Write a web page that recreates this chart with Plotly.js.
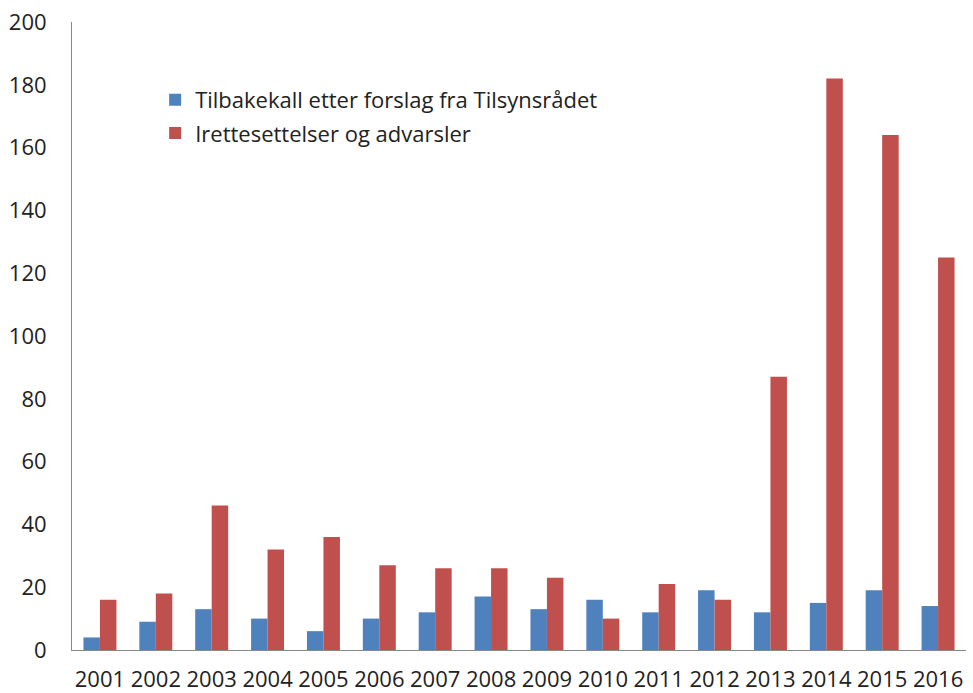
<!DOCTYPE html>
<html>
<head>
<meta charset="utf-8">
<script src="https://cdn.plot.ly/plotly-3.0.1.min.js"></script>
<style>html,body{margin:0;padding:0;background:#fff;}#chart{width:973px;height:693px;}</style>
</head>
<body>
<div id="chart"></div>
<script>
const years = ["2001","2002","2003","2004","2005","2006","2007","2008","2009","2010","2011","2012","2013","2014","2015","2016"];
const tilbakekall = [4, 9, 13, 10, 6, 10, 12, 17, 13, 16, 12, 19, 12, 15, 19, 14];
const irettesettelser = [16, 18, 46, 32, 36, 27, 26, 26, 23, 10, 21, 16, 87, 182, 164, 125];
const seriesNames = ["Tilbakekall etter forslag fra Tilsynsrådet", "Irettesettelser og advarsler"];
const yTicks = [0, 20, 40, 60, 80, 100, 120, 140, 160, 180, 200];

const font = "'Open Sans', 'Noto Sans', sans-serif";
const legendBase = {x: 0.093, xanchor: "left", yanchor: "middle", bgcolor: "rgba(0,0,0,0)",
                    font: {family: font, size: 22, color: "#222"}, itemwidth: 30};
const data = [
  {type: "bar", x: years, y: tilbakekall, name: seriesNames[0], marker: {color: "#4F81BD"}, legend: "legend"},
  {type: "bar", x: years, y: irettesettelser, name: seriesNames[1], marker: {color: "#C0504D"}, legend: "legend2"}
];
const layout = {
  width: 973, height: 693,
  margin: {l: 72, r: 7, t: 22, b: 43},
  paper_bgcolor: "#fff", plot_bgcolor: "#fff",
  barmode: "group", bargap: 0.41, bargroupgap: 0,
  font: {family: font, color: "#222", size: 22},
  showlegend: true,
  legend: Object.assign({}, legendBase, {y: 0.876}),
  legend2: Object.assign({}, legendBase, {y: 0.823}),
  xaxis: {type: "category", showline: true, linecolor: "#888", linewidth: 1, showgrid: false,
          ticks: "", tickfont: {family: font, size: 22, color: "#222"}, ticklabelstandoff: 10, zeroline: false},
  yaxis: {range: [0, 200], tickvals: yTicks, showline: true, linecolor: "#888", linewidth: 1,
          showgrid: false, zeroline: false, ticks: "", ticklabelstandoff: 20,
          tickfont: {family: font, size: 22, color: "#222"}}
};
Plotly.newPlot("chart", data, layout, {displayModeBar: false, staticPlot: true});
</script>
</body>
</html>
